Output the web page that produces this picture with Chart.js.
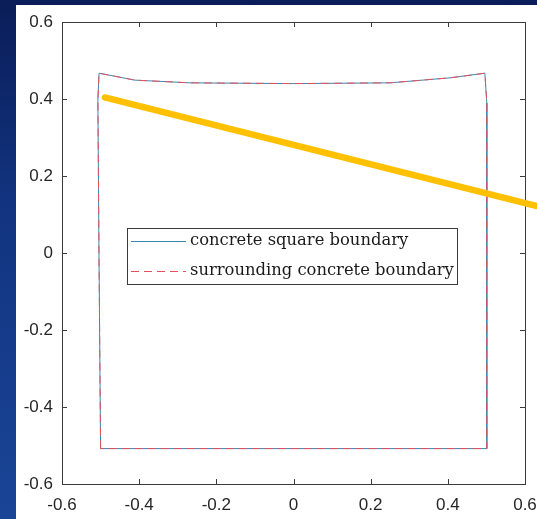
<!DOCTYPE html>
<html>
<head>
<meta charset="utf-8">
<script src="https://cdn.jsdelivr.net/npm/chart.js@4"></script>
<style>
  html, body { margin: 0; padding: 0; }
  body { width: 537px; height: 519px; overflow: hidden;
         background: linear-gradient(180deg, #0a1d58 0%, #123480 40%, #1a4597 100%); position: relative; }
  #panel { position: absolute; left: 16px; top: 5px; width: 521px; height: 514px; background: #ffffff; }
  #c { display: block; }
</style>
</head>
<body>
<div id="panel"><canvas id="c" width="521" height="514"></canvas></div>
<script>
// ---- data ----
const boundaryX = [-0.500, -0.504, -0.507, -0.504, -0.411, -0.268, 0.001, 0.250, 0.406, 0.496, 0.501, 0.501, -0.500];
const boundaryY = [-0.508, -0.018, 0.397, 0.467, 0.449, 0.442, 0.440, 0.442, 0.455, 0.467, 0.390, -0.508, -0.508];
const surroundX = [-0.500, -0.504, -0.507, -0.504, -0.411, -0.268, 0.001, 0.250, 0.406, 0.496, 0.501, 0.501, -0.500];
const surroundY = [-0.508, -0.018, 0.397, 0.467, 0.449, 0.442, 0.440, 0.442, 0.455, 0.467, 0.390, -0.508, -0.508];
const arrowX = [-0.489, 0.631];
const arrowY = [0.404, 0.122];
const seriesLabels = ['concrete square boundary', 'surrounding concrete boundary'];
const tickValues = [-0.6, -0.4, -0.2, 0, 0.2, 0.4, 0.6];

const toPts = (xs, ys) => xs.map((x, i) => ({x: x, y: ys[i]}));

const AX = '#3a3a3a';

const boxPlugin = {
  id: 'box',
  beforeDatasetsDraw(chart) {
    const {ctx, chartArea: a, scales} = chart;
    ctx.save();
    ctx.strokeStyle = AX;
    ctx.lineWidth = 1;
    ctx.strokeRect(Math.round(a.left) + 0.5, Math.round(a.top) + 0.5,
                   Math.round(a.right - a.left), Math.round(a.bottom - a.top));
    const tl = 5;
    ctx.beginPath();
    scales.x.ticks.forEach(t => {
      const px = Math.round(scales.x.getPixelForValue(t.value)) + 0.5;
      ctx.moveTo(px, a.bottom); ctx.lineTo(px, a.bottom - tl);
      ctx.moveTo(px, a.top); ctx.lineTo(px, a.top + tl);
    });
    scales.y.ticks.forEach(t => {
      const py = Math.round(scales.y.getPixelForValue(t.value)) + 0.5;
      ctx.moveTo(a.left, py); ctx.lineTo(a.left + tl, py);
      ctx.moveTo(a.right, py); ctx.lineTo(a.right - tl, py);
    });
    ctx.stroke();
    ctx.restore();
  },
  afterDatasetsDraw(chart) {
    const {ctx} = chart;
    // legend box (inside axes)
    const bx = 111, by = 223, bw = 330, bh = 56;
    ctx.save();
    ctx.fillStyle = '#ffffff';
    ctx.fillRect(bx, by, bw, bh);
    ctx.strokeStyle = AX;
    ctx.lineWidth = 1;
    ctx.strokeRect(bx + 0.5, by + 0.5, bw, bh);
    const rows = [by + 13, by + 43];
    const fam = '"DejaVu Serif", "Liberation Serif", serif';
    ctx.font = '100px ' + fam;
    const w = ctx.measureText(seriesLabels[1]).width;
    const fs = 100 * 264 / w;
    ctx.font = fs.toFixed(2) + 'px ' + fam;
    ctx.textBaseline = 'middle';
    ctx.fillStyle = '#1a1a1a';
    chart.data.datasets.slice(0, 2).forEach((ds, i) => {
      ctx.strokeStyle = ds.borderColor;
      ctx.lineWidth = 1.2;
      ctx.setLineDash(ds.borderDash || []);
      ctx.beginPath();
      ctx.moveTo(bx + 4, rows[i] + 0.5);
      ctx.lineTo(bx + 59, rows[i] + 0.5);
      ctx.stroke();
      ctx.setLineDash([]);
      ctx.fillText(seriesLabels[i], bx + 63, rows[i]);
    });
    ctx.restore();
  }
};

new Chart(document.getElementById('c'), {
  type: 'scatter',
  data: {
    datasets: [
      { label: seriesLabels[0], order: 2, data: toPts(boundaryX, boundaryY), showLine: true,
        borderColor: '#3a86b4', borderWidth: 1, pointRadius: 0, tension: 0 },
      { label: seriesLabels[1], order: 1, data: toPts(surroundX, surroundY), showLine: true,
        borderColor: '#e5505c', borderWidth: 1, borderDash: [8, 5], pointRadius: 0, tension: 0 },
      { label: 'arrow', order: 0, data: toPts(arrowX, arrowY), showLine: true, clip: false,
        borderColor: '#ffc000', borderWidth: 6.5, borderCapStyle: 'round', pointRadius: 0 }
    ]
  },
  options: {
    responsive: false,
    animation: false,
    devicePixelRatio: 1,
    layout: { padding: { top: 17, right: 12, left: 0, bottom: 0 } },
    plugins: { legend: { display: false }, tooltip: { enabled: false } },
    scales: {
      x: {
        type: 'linear', min: -0.6, max: 0.6,
        afterBuildTicks: s => { s.ticks = tickValues.map(v => ({value: v})); },
        afterFit: s => { s.height = 35; s.paddingRight = 0; s.paddingLeft = 0; },
        grid: { display: false, drawTicks: false },
        border: { display: false },
        ticks: { padding: 11, color: '#262626', maxRotation: 0,
                 font: { family: '"Liberation Sans", Arial, sans-serif', size: 17 },
                 callback: v => String(Math.round(v * 10) / 10) }
      },
      y: {
        type: 'linear', min: -0.6, max: 0.6,
        afterBuildTicks: s => { s.ticks = tickValues.map(v => ({value: v})); },
        afterFit: s => { s.width = 46; s.paddingTop = 0; s.paddingBottom = 0; },
        grid: { display: false, drawTicks: false },
        border: { display: false },
        ticks: { padding: 9, color: '#262626',
                 font: { family: '"Liberation Sans", Arial, sans-serif', size: 17 },
                 callback: v => String(Math.round(v * 10) / 10) }
      }
    }
  },
  plugins: [boxPlugin]
});
</script>
</body>
</html>
